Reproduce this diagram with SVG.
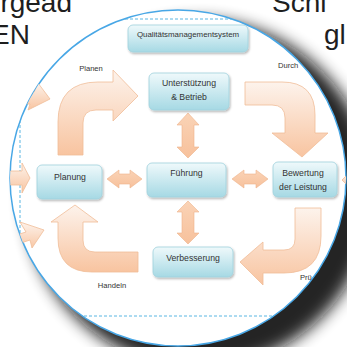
<svg xmlns="http://www.w3.org/2000/svg" width="347" height="347" viewBox="0 0 347 347">
<defs>
<style>
.bg{font-family:"Liberation Sans",Arial,sans-serif;font-size:28px;fill:#1e1e1e}
.bx{fill:url(#boxg);stroke:#9fd2dd;stroke-width:0.8;filter:url(#bsh)}
.bt{font-family:"Liberation Sans",Arial,sans-serif;font-size:8.7px;fill:#333;text-anchor:middle}
.lb{font-family:"Liberation Sans",Arial,sans-serif;font-size:7.6px;fill:#333}
.ca{fill:url(#arg);stroke:#f0bd98;stroke-width:0.8}
.da{fill:url(#dag);stroke:#eeb48c;stroke-width:0.6}
.dash{fill:none;stroke:#5ab6e2;stroke-width:1;stroke-dasharray:3 2}
</style>
<linearGradient id="boxg" x1="0" y1="0" x2="0" y2="1">
<stop offset="0" stop-color="#eff9fb"/>
<stop offset="1" stop-color="#a6d9e4"/>
</linearGradient>
<linearGradient id="arg" x1="0" y1="0" x2="0" y2="1">
<stop offset="0" stop-color="#fdf3ec"/>
<stop offset="1" stop-color="#f8c4a0"/>
</linearGradient>
<linearGradient id="dag" x1="0" y1="0" x2="0" y2="1">
<stop offset="0" stop-color="#fad3b6"/>
<stop offset="1" stop-color="#f7c19c"/>
</linearGradient>
<filter id="bsh" x="-20%" y="-20%" width="140%" height="150%">
<feDropShadow dx="1" dy="1.5" stdDeviation="1" flood-color="#000" flood-opacity="0.3"/>
</filter>
<filter id="csh" x="-30%" y="-30%" width="160%" height="160%">
<feGaussianBlur stdDeviation="8"/>
</filter>
<clipPath id="lens"><circle cx="178" cy="178" r="168"/></clipPath>
</defs>
<rect width="347" height="347" fill="#fff"/>
<g id="background-text">
<text class="bg" x="72" y="12" text-anchor="end">rgead</text>
<text class="bg" x="30" y="44" text-anchor="end">EN</text>
<text class="bg" x="272" y="12">Schl</text>
<text class="bg" x="324" y="44">gl</text>
</g>
<circle cx="199" cy="194" r="174" fill="#111" opacity="0.9" filter="url(#csh)"/>
<circle cx="178" cy="178" r="168" fill="#fff" stroke="#48a7e6" stroke-width="1.5"/>
<g clip-path="url(#lens)">
<rect class="dash" x="20" y="19" width="360" height="297"/>
<g id="outer-arrows">
<polygon class="ca" points="20,92 34,92 38,83 50,99 28,110 30,104 20,104"/>
<polygon class="ca" points="0,171 22,171 22,163 30,178 22,193 22,185 0,185"/>
<polygon class="ca" points="0,240 26,232 20,222 44,230 32,248 30,240 0,250"/>
<polygon class="ca" points="342,180 352,170 352,190"/>
</g>
<g id="connectors">
<path id="planen-arrow" class="ca" d="M58,155 L58,122 Q58,82 98,82 L113,82 L113,70 L138,96 L113,121 L113,110 L96,110 Q83,110 83,123 L83,155 Z"/>
<path id="durch-arrow" class="ca" d="M245,82 L282,82 Q315,82 315,115 L315,133 L328,133 L302,157 L272,133 L285,133 L285,118 Q285,105 272,105 L245,105 Z"/>
<path id="pruef-arrow" class="ca" d="M295,208 L321,208 L321,236 Q321,273 284,273 L263,273 L263,285 L240,262 L263,242 L263,250 L284,250 Q295,250 295,239 Z"/>
<path id="handeln-arrow" class="ca" d="M138,252 L95,252 Q83,252 83,240 L83,222 L98,222 L75,205 L51,222 L58,222 L58,238 Q58,272 92,272 L138,272 Z"/>
<path class="da" d="M188,113 L199,125 L194,125 L194,147 L199,147 L188,158 L177,147 L182,147 L182,125 L177,125 Z"/>
<path class="da" d="M188,201 L199,212 L194,212 L194,233 L199,233 L188,244 L177,233 L182,233 L182,212 L177,212 Z"/>
<path class="da" d="M107,179 L119,170 L119,174 L130,174 L130,170 L142,179 L130,188 L130,184 L119,184 L119,188 Z"/>
<path class="da" d="M232,179 L244,170 L244,174 L256,174 L256,170 L268,179 L256,188 L256,184 L244,184 L244,188 Z"/>
</g>
<g id="node-qms">
<rect class="bx" x="128" y="25" width="120" height="27" rx="5"/>
<text class="bt" x="188" y="37" style="font-size:7.9px">Qualitätsmanagementsystem</text>
</g>
<g id="node-unterstuetzung">
<rect class="bx" x="149" y="73" width="80" height="37" rx="5"/>
<text class="bt" x="189" y="86">Unterstützung</text>
<text class="bt" x="189" y="100">&amp; Betrieb</text>
</g>
<g id="node-planung">
<rect class="bx" x="37" y="165" width="65" height="34" rx="5"/>
<text class="bt" x="70" y="180">Planung</text>
</g>
<g id="node-fuehrung">
<rect class="bx" x="147" y="163" width="79" height="34" rx="5"/>
<text class="bt" x="186.5" y="176">Führung</text>
</g>
<g id="node-bewertung">
<rect class="bx" x="273" y="162" width="64" height="35" rx="5"/>
<text class="bt" x="303" y="176">Bewertung</text>
<text class="bt" x="303" y="190">der Leistung</text>
</g>
<g id="node-verbesserung">
<rect class="bx" x="153" y="247" width="80" height="30" rx="5"/>
<text class="bt" x="193" y="261">Verbesserung</text>
</g>
<g id="labels">
<text class="lb" x="91" y="71" text-anchor="middle">Planen</text>
<text class="lb" x="278" y="68">Durch</text>
<text class="lb" x="112" y="288" text-anchor="middle">Handeln</text>
<text class="lb" x="300" y="280">Prü</text>
</g>
</g>
</svg>
